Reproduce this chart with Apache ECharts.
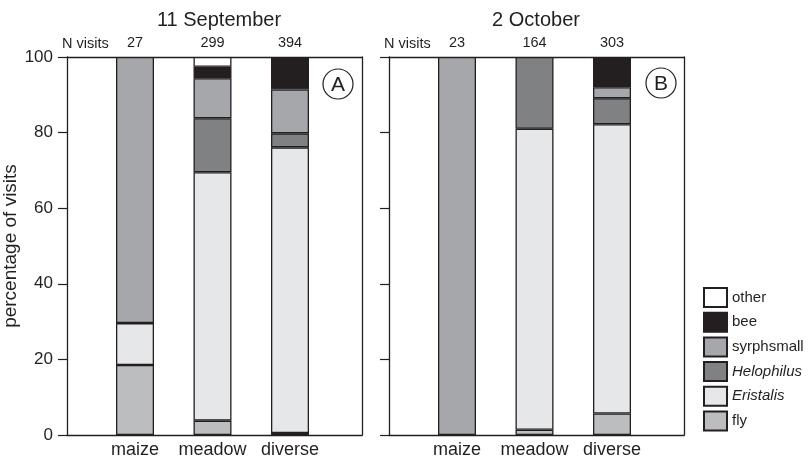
<!DOCTYPE html>
<html>
<head>
<meta charset="utf-8">
<script src="https://cdn.jsdelivr.net/npm/echarts@6/dist/echarts.min.js"></script>
<style>html,body{margin:0;padding:0;background:#fff}#c{width:810px;height:460px}</style>
</head>
<body>
<div id="c"></div>
<script>
// ---- data ----
var categories = ['maize', 'meadow', 'diverse'];
var panelTitles = ['11 September', '2 October'];
var panelLetters = ['A', 'B'];
var nVisitsSep = [27, 299, 394];
var nVisitsOct = [23, 164, 303];
var groups = ['fly', 'Eristalis', 'Helophilus', 'syrphsmall', 'bee', 'other']; // bottom -> top
var legendOrder = ['other', 'bee', 'syrphsmall', 'Helophilus', 'Eristalis', 'fly'];
var sepFly        = [18.5, 3.8, 0.5];
var sepEristalis  = [11.1, 65.7, 75.6];
var sepHelophilus = [0, 14.3, 3.7];
var sepSyrphsmall = [70.4, 10.6, 11.6];
var sepBee        = [0, 3.0, 8.6];
var sepOther      = [0, 2.6, 0];
var octFly        = [0, 1.4, 5.7];
var octEristalis  = [0, 79.6, 76.5];
var octHelophilus = [0, 19.0, 6.9];
var octSyrphsmall = [100, 0, 2.9];
var octBee        = [0, 0, 8.0];
var octOther      = [0, 0, 0];

// ---- styling ----
var INK = '#231f20';
var FONT = "'Liberation Sans', Arial, Helvetica, sans-serif";
var colors = {
  fly: '#bcbdbf', Eristalis: '#e6e7e8', Helophilus: '#808183',
  syrphsmall: '#a6a7aa', bee: '#231f20', other: '#ffffff'
};
var sepData = { fly: sepFly, Eristalis: sepEristalis, Helophilus: sepHelophilus, syrphsmall: sepSyrphsmall, bee: sepBee, other: sepOther };
var octData = { fly: octFly, Eristalis: octEristalis, Helophilus: octHelophilus, syrphsmall: octSyrphsmall, bee: octBee, other: octOther };

// frame grids (0,1) and data grids (2,3)
var grids = [
  { left: 67, top: 57, width: 295, height: 378 },
  { left: 389, top: 57, width: 295, height: 378 },
  { left: 96.25, top: 57, width: 232.5, height: 378 },
  { left: 418.25, top: 57, width: 232.5, height: 378 }
];

var lineStyle = { color: INK, width: 1.3 };
var xAxes = [], yAxes = [], series = [];

// frame axes
[0, 1].forEach(function (g) {
  xAxes.push({ type: 'value', gridIndex: g, min: 0, max: 1, position: 'bottom',
    splitLine: { show: false }, axisTick: { show: false }, axisLabel: { show: false },
    axisLine: { show: true, onZero: false, lineStyle: lineStyle } });
  xAxes.push({ type: 'value', gridIndex: g, min: 0, max: 1, position: 'top',
    splitLine: { show: false }, axisTick: { show: false }, axisLabel: { show: false },
    axisLine: { show: true, onZero: false, lineStyle: lineStyle } });
  yAxes.push({
    type: 'value', gridIndex: g, min: 0, max: 100, interval: 20, position: 'left',
    name: g === 0 ? 'percentage of visits' : '', nameLocation: 'middle', nameGap: 41,
    nameTextStyle: { fontSize: 19, color: INK, fontFamily: FONT },
    splitLine: { show: false },
    axisLine: { show: true, onZero: false, lineStyle: lineStyle },
    axisTick: { show: true, inside: false, length: 9, lineStyle: { color: INK, width: 1.2 } },
    axisLabel: { show: g === 0, margin: 14, fontSize: 17, color: INK, fontFamily: FONT }
  });
  yAxes.push({ type: 'value', gridIndex: g, min: 0, max: 100, position: 'right',
    splitLine: { show: false }, axisTick: { show: false }, axisLabel: { show: false },
    axisLine: { show: true, onZero: false, lineStyle: lineStyle } });
});

// data axes + series
[0, 1].forEach(function (g) {
  var gi = g + 2;
  var nv = g === 0 ? nVisitsSep : nVisitsOct;
  var bx = xAxes.length;
  xAxes.push({
    type: 'category', gridIndex: gi, data: categories, position: 'bottom',
    axisLine: { show: false }, axisTick: { show: false },
    axisLabel: { margin: 6, fontSize: 18, color: INK, fontFamily: FONT, interval: 0 }
  });
  xAxes.push({
    type: 'category', gridIndex: gi, data: nv.map(String), position: 'top',
    axisLine: { show: false }, axisTick: { show: false },
    axisLabel: { margin: 7, fontSize: 14.5, color: INK, fontFamily: FONT, interval: 0 }
  });
  var by = yAxes.length;
  yAxes.push({ type: 'value', gridIndex: gi, min: 0, max: 100, show: false });
  var dataMap = g === 0 ? sepData : octData;
  groups.forEach(function (name) {
    series.push({
      type: 'bar', name: name, stack: 'panel' + g,
      xAxisIndex: bx, yAxisIndex: by,
      barWidth: 38,
      itemStyle: { color: colors[name], borderColor: INK, borderWidth: 1.3 },
      emphasis: { disabled: true },
      data: dataMap[name].map(function (v) { return v === 0 ? '-' : v; })
    });
  });
});

var graphics = [];
var letterPos = [[338, 84], [661, 83]];
[0, 1].forEach(function (g) {
  graphics.push({
    type: 'text', left: grids[g].left - 5, top: 36,
    style: { text: 'N visits', fontSize: 14.5, fill: INK, fontFamily: FONT }
  });
  graphics.push({
    type: 'circle', shape: { cx: letterPos[g][0], cy: letterPos[g][1], r: 15 },
    style: { fill: 'none', stroke: INK, lineWidth: 1.2 }
  });
  graphics.push({
    type: 'text', x: letterPos[g][0], y: letterPos[g][1] + 1,
    style: { text: panelLetters[g], fontSize: 21, fill: INK, fontFamily: FONT, align: 'center', verticalAlign: 'middle' }
  });
});

var chart = echarts.init(document.getElementById('c'), null, { renderer: 'canvas' });
chart.setOption({
  animation: false,
  backgroundColor: '#fff',
  textStyle: { fontFamily: FONT, color: INK },
  title: [
    { text: panelTitles[0], left: 214, top: 5, textAlign: 'center', textStyle: { fontSize: 20, fontWeight: 'normal', color: INK, fontFamily: FONT } },
    { text: panelTitles[1], left: 531, top: 5, textAlign: 'center', textStyle: { fontSize: 20, fontWeight: 'normal', color: INK, fontFamily: FONT } }
  ],
  legend: {
    data: legendOrder, orient: 'vertical', left: 698, top: 282,
    itemWidth: 23, itemHeight: 19, itemGap: 3.7, icon: 'rect',
    selectedMode: false,
    formatter: function (n) { return (n === 'Helophilus' || n === 'Eristalis') ? '{i|' + n + '}' : '{n|' + n + '}'; },
    textStyle: {
      fontSize: 15, color: INK, fontFamily: FONT,
      rich: {
        i: { fontStyle: 'italic', fontSize: 15, color: INK, fontFamily: FONT },
        n: { fontSize: 15, color: INK, fontFamily: FONT }
      }
    }
  },
  grid: grids,
  xAxis: xAxes,
  yAxis: yAxes,
  series: series,
  graphic: graphics
});
</script>
</body>
</html>
